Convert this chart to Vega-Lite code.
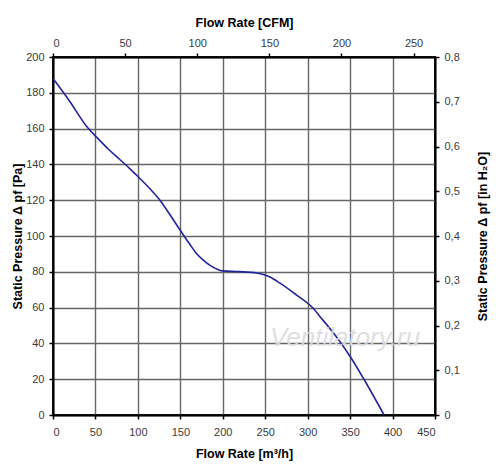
{
  "$schema": "https://vega.github.io/schema/vega-lite/v6.json",
  "width": 382,
  "height": 358,
  "autosize": {"type": "none"},
  "padding": {"left": 53, "top": 57, "right": 65, "bottom": 58},
  "background": "white",
  "layer": [
    {
      "data": {
        "values": [
          {"m3h": 0, "pa": 188},
          {"m3h": 20, "pa": 175},
          {"m3h": 40, "pa": 161},
          {"m3h": 53, "pa": 154.4},
          {"m3h": 65, "pa": 148.6},
          {"m3h": 79, "pa": 142.6},
          {"m3h": 91, "pa": 137.4},
          {"m3h": 101, "pa": 132.8},
          {"m3h": 114, "pa": 126.5},
          {"m3h": 126, "pa": 120},
          {"m3h": 139, "pa": 111},
          {"m3h": 152, "pa": 101.7},
          {"m3h": 161, "pa": 95.5},
          {"m3h": 169, "pa": 90.2},
          {"m3h": 177, "pa": 86.5},
          {"m3h": 185, "pa": 83.6},
          {"m3h": 200, "pa": 80.5},
          {"m3h": 220, "pa": 80.1},
          {"m3h": 240, "pa": 79.3},
          {"m3h": 255, "pa": 77.2},
          {"m3h": 267, "pa": 73.8},
          {"m3h": 287, "pa": 67},
          {"m3h": 305, "pa": 60.3},
          {"m3h": 318, "pa": 53},
          {"m3h": 334, "pa": 43.6},
          {"m3h": 351, "pa": 32},
          {"m3h": 367, "pa": 19.4},
          {"m3h": 390, "pa": 0}
        ]
      },
      "mark": {"type": "line", "color": "#24249a", "strokeWidth": 1.6, "interpolate": "monotone"},
      "encoding": {
        "x": {
          "field": "m3h",
          "type": "quantitative",
          "scale": {"domain": [0, 450], "nice": false},
          "axis": {
            "orient": "bottom",
            "title": "Flow Rate [m³/h]",
            "values": [0, 50, 100, 150, 200, 250, 300, 350, 400, 450],
            "grid": true,
            "labelPadding": 7,
            "titlePadding": 10
          }
        },
        "y": {
          "field": "pa",
          "type": "quantitative",
          "scale": {"domain": [0, 200], "nice": false},
          "axis": {
            "orient": "left",
            "title": "Static Pressure Δ pf [Pa]",
            "values": [0, 20, 40, 60, 80, 100, 120, 140, 160, 180, 200],
            "grid": true,
            "titleX": -36,
            "titleY": 179,
            "titleAngle": -90,
            "titleAlign": "center",
            "titleBaseline": "middle"
          }
        }
      }
    },
    {
      "data": {"values": [{"cfm": 0, "inh2o": 0}]},
      "mark": {"type": "point", "opacity": 0},
      "encoding": {
        "x": {
          "field": "cfm",
          "type": "quantitative",
          "scale": {"domain": [0, 264.87], "nice": false},
          "axis": {
            "orient": "top",
            "title": "Flow Rate [CFM]",
            "values": [0, 50, 100, 150, 200, 250],
            "grid": false,
            "titlePadding": 8
          }
        },
        "y": {
          "field": "inh2o",
          "type": "quantitative",
          "scale": {"domain": [0, 0.8], "nice": false},
          "axis": {
            "orient": "right",
            "title": "Static Pressure Δ pf [in H₂O]",
            "titleX": 47,
            "titleY": 179,
            "titleAngle": -90,
            "titleAlign": "center",
            "titleBaseline": "middle",
            "values": [0, 0.1, 0.2, 0.3, 0.4, 0.5, 0.6, 0.7, 0.8],
            "labelExpr": "datum.value == 0 ? '0' : replace(format(datum.value, '.1f'), '.', ',')",
            "grid": false
          }
        }
      }
    },
    {
      "data": {"values": [{"label": "Ventilatory.ru", "m3h": 344, "pa": 43}]},
      "mark": {
        "type": "text",
        "font": "Liberation Sans",
        "fontSize": 26,
        "fontStyle": "italic",
        "color": "#dcdcdc",
        "opacity": 0.9
      },
      "encoding": {
        "x": {"field": "m3h", "type": "quantitative", "scale": {"domain": [0, 450], "nice": false}, "axis": null},
        "y": {"field": "pa", "type": "quantitative", "scale": {"domain": [0, 200], "nice": false}, "axis": null},
        "text": {"field": "label"}
      }
    }
  ],
  "resolve": {"scale": {"x": "independent", "y": "independent"}},
  "config": {
    "view": {"stroke": "black", "strokeWidth": 2},
    "axis": {
      "labelFont": "Liberation Sans",
      "labelFontSize": 11,
      "labelColor": "#3a3a3a",
      "titleFont": "Liberation Sans",
      "titleFontSize": 12.5,
      "titleFontWeight": "bold",
      "titleColor": "black",
      "domainColor": "black",
      "domainWidth": 2,
      "tickColor": "black",
      "tickSize": 4,
      "tickWidth": 1.5,
      "labelPadding": 5,
      "gridColor": "#666666",
      "gridWidth": 1.4,
      "gridOpacity": 1
    }
  }
}
